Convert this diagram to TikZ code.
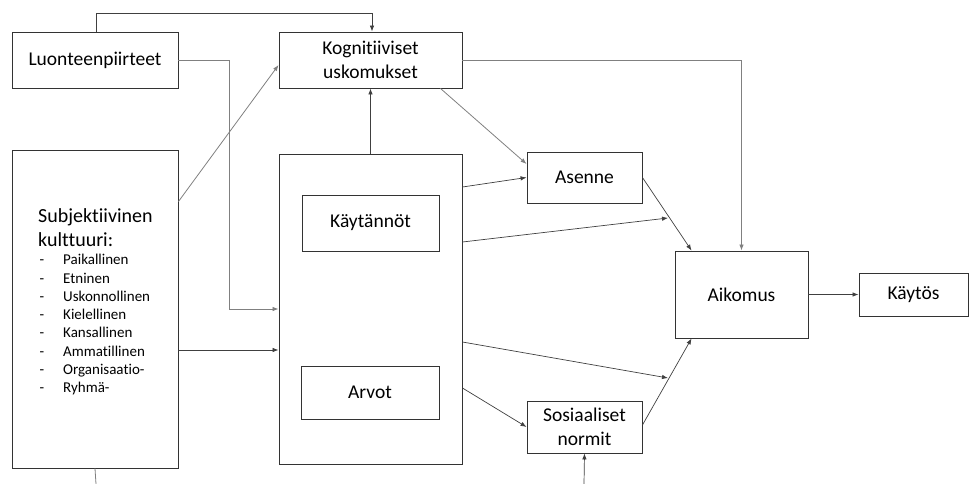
\documentclass[tikz,border=0pt]{standalone}
\usepackage{fontspec}
\setmainfont[Ligatures={NoCommon,NoContextual}]{Carlito}
\usetikzlibrary{arrows.meta,calc}
\begin{document}
\begin{tikzpicture}[x=1pt,y=-1pt,
  box/.style={draw=black!80, line width=0.9pt, inner sep=0pt, align=center,
    font=\fontsize{19.5}{23.5}\selectfont},
  conn/.style={draw=black!75, line width=0.7pt},
  lconn/.style={draw=black!50, line width=0.8pt},
  arr/.style={-{Latex[length=6pt,width=4.5pt]}},
  big/.style={inner sep=0pt, font=\fontsize{20}{24}\selectfont},
  item/.style={inner sep=0pt, font=\fontsize{15}{18}\selectfont}]
\useasboundingbox (0,0) rectangle (977,484);
% boxes
\node[box, minimum width=166pt, minimum height=56pt] (luo) at (95,60) {Luonteenpiirteet};
\node[box, minimum width=183pt, minimum height=56pt] (kog) at (370.5,60) {Kognitiiviset\\uskomukset};
\node[box, minimum width=166pt, minimum height=318pt] (subj) at (95,309) {};
\node[box, minimum width=183pt, minimum height=310pt] (main) at (370.5,309) {};
\node[box, minimum width=137pt, minimum height=56pt] (kay) at (370.5,223) {Käytännöt};
\node[box, minimum width=138pt, minimum height=53pt] (arv) at (370,392.5) {Arvot};
\node[box, minimum width=115pt, minimum height=51pt] (ase) at (584.5,177.5) {Asenne};
\node[box, minimum width=115pt, minimum height=52pt] (sos) at (584.5,427) {Sosiaaliset\\normit};
\node[box, minimum width=133pt, minimum height=87pt] (aik) at (741.5,294.5) {Aikomus};
\node[box, minimum width=109pt, minimum height=43pt] (kayt) at (913.5,294.5) {Käytös};
% subjective culture text
\node[big, anchor=base west] (st1) at (38,222) {Subjektiivinen};
\node[big, anchor=base west] (st2) at (38,246) {kulttuuri:};
\foreach \itm [count=\i] in {Paikallinen,Etninen,Uskonnollinen,Kielellinen,Kansallinen,Ammatillinen,Organisaatio-,Ryhmä-}{
  \node[item, anchor=base west] (d\i) at (39.5,{264.7+18.3*(\i-1)}) {-};
  \node[item, anchor=base west] (it\i) at (63,{264.7+18.3*(\i-1)}) {\itm};
}
% free-end coordinates
\coordinate (t1) at (96,13);
\coordinate (c2) at (229,309);
\coordinate (p1) at (668,218);
\coordinate (p2) at (668,378);
\coordinate (sb) at (96,484);
\coordinate (nb) at (584,484);
% connectors
\draw[conn, arr] ([xshift=1pt]luo.north) |- (t1) -| ([xshift=1.5pt]kog.north);
\draw[lconn, arr] (luo.east) -| (c2) -- (main.west |- c2);
\draw[lconn, arr] ([yshift=-52pt]subj.north east) -- ([yshift=-5pt]kog.west);
\draw[conn, arr] ([yshift=-41pt]subj.east) -- ([yshift=-41pt]main.west);
\draw[lconn] (subj.south) -- (sb);
\draw[conn, arr] (main.north) -- (kog.south);
\draw[lconn, arr] (kog.east) -| (aik.north);
\draw[lconn, arr] ([xshift=-22pt]kog.south east) -- ([yshift=13.5pt]ase.west);
\draw[conn, arr] ([yshift=122pt]main.east) -- (ase.west);
\draw[conn, arr] ([yshift=67pt]main.east) -- (p1);
\draw[conn, arr] ([yshift=-33pt]main.east) -- (p2);
\draw[conn, arr] ([yshift=-79pt]main.east) -- (sos.west);
\draw[conn, arr] (ase.east) -- ([xshift=17pt]aik.north west);
\draw[conn, arr] ([yshift=2pt]sos.east) -- ([xshift=17pt]aik.south west);
\draw[conn, arr] (nb) -- (sos.south);
\draw[conn, arr] (aik.east) -- (kayt.west);
\end{tikzpicture}
\end{document}
